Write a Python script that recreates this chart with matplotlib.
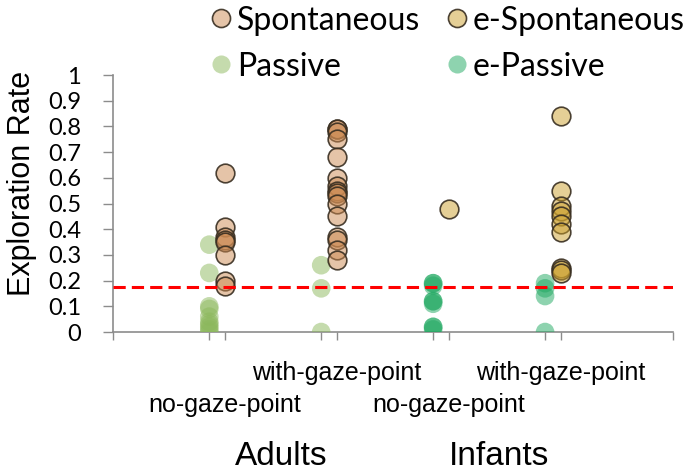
import matplotlib
matplotlib.use("Agg")
import matplotlib.pyplot as plt
from matplotlib.lines import Line2D

# values (exploration rate per participant)
adult_nogaze_spont = [0.62, 0.41, 0.37, 0.36, 0.35, 0.30, 0.20, 0.18]
adult_withgaze_spont = [0.79, 0.79, 0.78, 0.75, 0.68, 0.60, 0.57, 0.55,
                        0.54, 0.53, 0.50, 0.45, 0.37, 0.36, 0.32, 0.28]
adult_nogaze_passive = [0.34, 0.23, 0.10, 0.09, 0.06, 0.04, 0.03, 0.02, 0.01, 0.0]
adult_withgaze_passive = [0.26, 0.17, 0.0]
infant_nogaze_espont = [0.48]
infant_withgaze_espont = [0.84, 0.55, 0.49, 0.47, 0.45, 0.42, 0.39, 0.25, 0.24, 0.23]
infant_nogaze_epassive = [0.19, 0.19, 0.18, 0.12, 0.12, 0.11, 0.02, 0.02, 0.01]
infant_withgaze_epassive = [0.19, 0.17, 0.14, 0.0]

chance_level = 0.175

cond_x = [1, 2, 3, 4]
cond_labels = ["no-gaze-point", "with-gaze-point", "no-gaze-point", "with-gaze-point"]
group_x = [1.5, 3.45]
group_labels = ["Adults", "Infants"]
passive_shift = -0.14

c_spont = (0.80, 0.54, 0.32, 0.5)
c_espont = (0.80, 0.63, 0.18, 0.5)
c_passive = (0.55, 0.72, 0.36, 0.5)
c_epassive = (0.12, 0.66, 0.38, 0.5)
edge = (0.22, 0.18, 0.13, 0.9)

fig = plt.figure(figsize=(6.85, 4.75), dpi=100)
ax = fig.add_axes([0.165, 0.301, 0.817, 0.541])

S = 180
def dots(x, vals, color, edged):
    ax.scatter([x] * len(vals), vals, s=S, c=[color],
               edgecolors=[edge] if edged else "none",
               linewidths=1.2 if edged else 0, zorder=3)

dots(cond_x[0] + passive_shift, adult_nogaze_passive, c_passive, False)
dots(cond_x[1] + passive_shift, adult_withgaze_passive, c_passive, False)
dots(cond_x[2] + passive_shift, infant_nogaze_epassive, c_epassive, False)
dots(cond_x[3] + passive_shift, infant_withgaze_epassive, c_epassive, False)
dots(cond_x[0], adult_nogaze_spont, c_spont, True)
dots(cond_x[1], adult_withgaze_spont, c_spont, True)
dots(cond_x[2], infant_nogaze_espont, c_espont, True)
dots(cond_x[3], infant_withgaze_espont, c_espont, True)

ax.axhline(chance_level, color="#FF0000", lw=2.2, ls=(0, (4, 2)), zorder=4)

ax.set_xlim(0, 5)
ax.set_ylim(0, 1)
ax.set_yticks([i / 10 for i in range(11)])
ax.set_yticklabels(["0"] + [f"0.{i}" for i in range(1, 10)] + ["1"],
                   fontfamily="Lato", fontsize=17)
ax.set_xticks(range(6))
ax.set_xticklabels([])
ax.set_xticks([x + passive_shift for x in cond_x], minor=True)
ax.tick_params(axis="y", direction="out", length=7, width=1, color="#8C8C8C", pad=16)
ax.tick_params(axis="x", which="both", direction="out", length=6, width=1, color="#8C8C8C")
for side in ["top", "right"]:
    ax.spines[side].set_visible(False)
for side in ["left", "bottom"]:
    ax.spines[side].set_color("#8C8C8C")
    ax.spines[side].set_linewidth(1.2)

ax.set_ylabel("Exploration Rate", fontfamily="Liberation Sans", fontsize=22)
ax.yaxis.set_label_coords(-0.135, 0.58)

tr = ax.get_xaxis_transform()
for i, (x, lab) in enumerate(zip(cond_x, cond_labels)):
    y = -0.284 if i % 2 == 0 else -0.16
    ax.text(x, y, lab, transform=tr, ha="center", va="center",
            fontfamily="Liberation Sans", fontsize=18)
for x, lab in zip(group_x, group_labels):
    ax.text(x, -0.486, lab, transform=tr, ha="center", va="center",
            fontfamily="Liberation Sans", fontsize=24)

handles = [
    Line2D([], [], ls="none", marker="o", ms=13, mfc=c_spont, mec=edge, mew=1.2),
    Line2D([], [], ls="none", marker="o", ms=13, mfc=c_passive, mec="none"),
    Line2D([], [], ls="none", marker="o", ms=13, mfc=c_espont, mec=edge, mew=1.2),
    Line2D([], [], ls="none", marker="o", ms=13, mfc=c_epassive, mec="none"),
]
labels = ["Spontaneous", "Passive", "e-Spontaneous", "e-Passive"]
fig.legend(handles, labels, ncol=2, loc="upper left", bbox_to_anchor=(0.285, 1.015),
           frameon=False, prop={"family": "Lato", "size": 23},
           handletextpad=0.1, handlelength=0.8, columnspacing=0.75,
           labelspacing=0.5, borderaxespad=0)

fig.savefig("out.png", dpi=100)
